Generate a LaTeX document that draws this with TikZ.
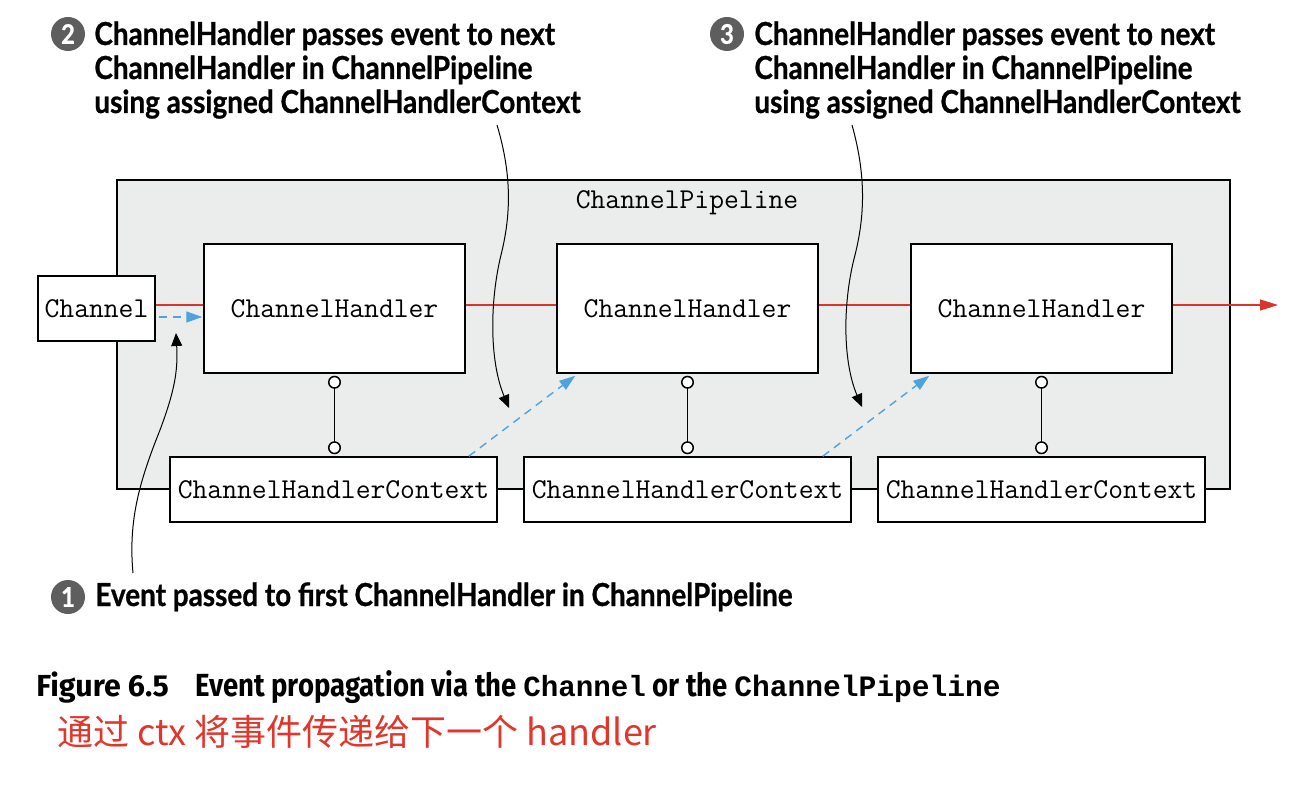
\documentclass[tikz,border=0pt]{standalone}
\usepackage{fontspec}
\usetikzlibrary{arrows.meta,calc}
\newfontfamily\annfont{Lato}[FakeStretch=0.88, FakeBold=0.8]
\newfontfamily\capfont{Fira Sans}[FakeStretch=0.86]
\newfontfamily\capfontw{Fira Sans}
\newfontfamily\capmono{Liberation Mono}
\newfontfamily\cjk{Noto Sans CJK SC}
\definecolor{pipegray}{HTML}{EBECEC}
\definecolor{numgray}{HTML}{5E5E5E}
\definecolor{lineRed}{HTML}{D9352C}
\definecolor{flowBlue}{HTML}{4FA3DC}
\definecolor{capRed}{HTML}{E0362C}
\begin{document}
\begin{tikzpicture}[x=0.5pt,y=-0.5pt,
  box/.style={draw=black, line width=0.75pt, fill=white, inner sep=0pt,
    font=\ttfamily\fontsize{14.4}{16}\selectfont},
  hbox/.style={box, minimum width=130.5pt, minimum height=64.5pt},
  cbox/.style={box, minimum width=163.5pt, minimum height=32.5pt},
  num/.style={circle, fill=numgray, text=white, inner sep=0pt, minimum size=17pt,
    font=\annfont\bfseries\fontsize{13.5}{13.5}\selectfont},
  ann/.style={anchor=base west, align=left, inner sep=0pt,
    font=\annfont\bfseries\fontsize{15.85}{17}\selectfont},
  curv/.style={-{Triangle[length=6.5pt,width=5.5pt]}, line width=0.5pt, black},
  flow/.style={draw=flowBlue, dash pattern=on 4pt off 3pt, line width=0.7pt,
    -{Triangle[length=8pt,width=5.5pt]}},
  conn/.style={line width=0.75pt,
    {Circle[open,fill=white,length=6.5pt,width=6.5pt]}-{Circle[open,fill=white,length=6.5pt,width=6.5pt]}},
  redline/.style={draw=lineRed, line width=0.6pt, -{Triangle[length=9pt,width=5.5pt]}}
]
\useasboundingbox (0,0) rectangle (1310,802);

% pipeline
\node[draw=black, fill=pipegray, line width=0.75pt, inner sep=0pt,
  minimum width=556.5pt, minimum height=154.5pt] (pipe) at (673.5,334.5) {};
\node[inner sep=0pt, font=\ttfamily\fontsize{14.4}{16}\selectfont] (plabel) at (687,203) {ChannelPipeline};

% red flow line
\coordinate (redEnd) at (1278,305);
\coordinate (redStart) at (155,305);
\draw[redline] (redStart) -- (redEnd);

% boxes
\node[box, minimum width=58.5pt, minimum height=32.5pt] (ch) at (96.5,308.5) {Channel};
\node[hbox] (h1) at (334.5,308.5) {ChannelHandler};
\node[hbox] (h2) at (687.5,308.5) {ChannelHandler};
\node[hbox] (h3) at (1041.5,308.5) {ChannelHandler};
\node[cbox] (c1) at (333.5,489.5) {ChannelHandlerContext};
\node[cbox] (c2) at (687.5,489.5) {ChannelHandlerContext};
\node[cbox] (c3) at (1041.5,489.5) {ChannelHandlerContext};

% handler-context links
\foreach \i in {1,2,3}{
  \draw[conn] ($(h\i.south)+(0,2)$) -- ($(h\i.south |- c\i.north)+(0,-2)$);
}

% blue dashed flows
\draw[flow] ($(ch.east)+(3,8.5)$) -- ($(h1.west)+(-1,8.5)$);
\draw[flow] ($(c1.north east)+(-29,0)$) -- ($(h2.south west)+(19,2)$);
\draw[flow] ($(c2.north east)+(-29,0)$) -- ($(h3.south west)+(19,2)$);

% annotations
\node[num] (n2) at (68,34) {2};
\node[ann] (t2) at (94,113) {ChannelHandler passes event to next\\ChannelHandler in ChannelPipeline\\using assigned ChannelHandlerContext};
\node[num] (n3) at (727,34) {3};
\node[ann] (t3) at (754,113) {ChannelHandler passes event to next\\ChannelHandler in ChannelPipeline\\using assigned ChannelHandlerContext};
\node[num] (n1) at (68,597) {1};
\node[ann] (t1) at (95,606) {Event passed to first ChannelHandler in ChannelPipeline};

% curved pointers
\coordinate (a2s) at (497,125);
\coordinate (a2e) at (509,408);
\draw[curv] (a2s) .. controls (512,175) and (511,215) .. (501,255)
  .. controls (490,300) and (489,360) .. (a2e);
\coordinate (a3s) at (852,125);
\coordinate (a3e) at (862,407);
\draw[curv] (a3s) .. controls (866,175) and (865,215) .. (855,255)
  .. controls (843,300) and (842,360) .. (a3e);
\coordinate (a1s) at (133,573);
\coordinate (a1e) at (176,333);
\draw[curv] (a1s) .. controls (128,520) and (140,480) .. (160,430)
  .. controls (175,390) and (178,370) .. (a1e);

% caption
\node[anchor=base west, inner sep=0pt, font=\capfontw\bfseries\fontsize{15.2}{18}\selectfont] (figno) at (36,696) {Figure 6.5};
\node[anchor=base west, inner sep=0pt, font=\capfont\bfseries\fontsize{16}{18}\selectfont] (figcap) at (195,696)
  {Event propagation via the {\capmono\bfseries\fontsize{14.6}{16}\selectfont Channel} or the {\capmono\bfseries\fontsize{14.8}{16}\selectfont ChannelPipeline}};
\node[anchor=base west, inner sep=0pt, text=capRed, font=\cjk\fontsize{18}{20}\selectfont] (note) at (57,745)
  {通过 ctx 将事件传递给下一个 handler};
\end{tikzpicture}
\end{document}
